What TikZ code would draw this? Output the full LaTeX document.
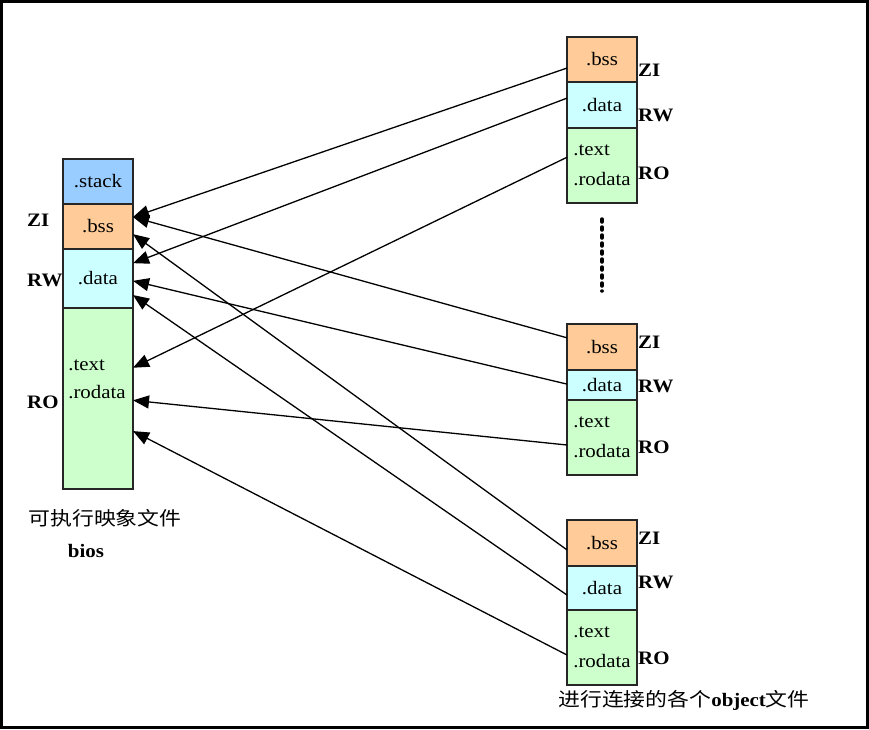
\documentclass[tikz,border=0pt]{standalone}
\usepackage{fontspec}
\setmainfont{Liberation Serif}[FakeStretch=1.1]
\newfontfamily\cjk{Noto Sans CJK SC}[FakeStretch=1.15]
\usetikzlibrary{arrows.meta, positioning, calc}

\definecolor{stackblue}{RGB}{153,204,255}
\definecolor{bssorange}{RGB}{255,204,153}
\definecolor{datacyan}{RGB}{204,255,255}
\definecolor{codegreen}{RGB}{204,255,204}

\begin{document}
\begin{tikzpicture}[
  x=1pt, y=-1pt,
  every node/.style={font=\fontsize{19}{22}\selectfont},
  sect/.style={
    rectangle,
    draw=black!85,
    line width=1.2pt,
    minimum width=70pt,
    inner sep=2pt,
    outer sep=0pt,
    align=center
  },
  stackbox/.style={sect, fill=stackblue},
  bssbox/.style={sect, fill=bssorange},
  databox/.style={sect, fill=datacyan},
  codebox/.style={sect, fill=codegreen, align=left},
  tag/.style={anchor=west, inner sep=0pt, font=\fontsize{19}{22}\selectfont\bfseries},
  note/.style={align=center},
  arrow/.style={-{Triangle[length=16pt,width=13pt]}, line width=1.3pt},
  node distance=0pt
]

\useasboundingbox (0,0) rectangle (869,729);
\draw[line width=3pt] (1.5,1.5) rectangle (867.5,727.5);

% ============================================================
% Left: executable image
% ============================================================

\node[stackbox, minimum height=45pt] (stack) at (98,181.5) {.stack};
\node[bssbox, minimum height=45pt, below=of stack] (bss) {.bss};
\node[databox, minimum height=59pt, below=of bss] (data) {.data};
\node[codebox, minimum height=181pt, below=of data] (code) {};
\node[note, align=left] (codetxt) at (97,379) {.text\\[6pt].rodata};

\node[tag] (lzi) at (27,220) {ZI};
\node[tag] (lrw) at (27,280) {RW};
\node[tag] (lro) at (27,402) {RO};

\node[note] (exename) at (105,518) {\cjk 可执行映象文件};
\node[note, font=\fontsize{19}{22}\selectfont\bfseries] (bios) at (86,551) {bios};

% ============================================================
% Right: object files
% ============================================================

\node[bssbox, minimum height=45pt] (tbss) at (602,59.5) {.bss};
\node[databox, minimum height=46pt, below=of tbss] (tdata) {.data};
\node[codebox, minimum height=75pt, below=of tdata] (tcode) {.text\\[8pt].rodata};

\node[tag] (tzi) at (638,70) {ZI};
\node[tag] (trw) at (638,115) {RW};
\node[tag] (tro) at (638,173) {RO};

\node[bssbox, minimum height=46pt] (mbss) at (602,347) {.bss};
\node[databox, minimum height=30pt, below=of mbss] (mdata) {.data};
\node[codebox, minimum height=75pt, below=of mdata] (mcode) {.text\\[8pt].rodata};

\node[tag] (mzi) at (638,342) {ZI};
\node[tag] (mrw) at (638,386) {RW};
\node[tag] (mro) at (638,447) {RO};

\node[bssbox, minimum height=46pt] (bbss) at (602,543) {.bss};
\node[databox, minimum height=44pt, below=of bbss] (bdata) {.data};
\node[codebox, minimum height=75pt, below=of bdata] (bcode) {.text\\[8pt].rodata};

\node[tag] (bzi) at (638,538) {ZI};
\node[tag] (brw) at (638,582) {RW};
\node[tag] (bro) at (638,658) {RO};

\node[note] (objname) at (684,700) {{\cjk 进行连接的各个}{\bfseries object}{\cjk 文件}};

% dots between object files
\draw[line width=3.5pt, line cap=round, dash pattern=on 3pt off 5pt]
  ([yshift=-16pt]tcode.south) -- ([yshift=33pt]mbss.north);

% ============================================================
% Arrows from object files to image
% ============================================================

\draw[arrow] ($(tbss.north west)!0.69!(tbss.south west)$) -- ($(bss.north east)!0.29!(bss.south east)$);
\draw[arrow] ($(tdata.north west)!0.35!(tdata.south west)$) -- ($(data.north east)!0.24!(data.south east)$);
\draw[arrow] ($(tcode.north west)!0.39!(tcode.south west)$) -- ($(code.north east)!0.33!(code.south east)$);

\draw[arrow] ($(mbss.north west)!0.3!(mbss.south west)$) -- ($(bss.north east)!0.29!(bss.south east)$);
\draw[arrow] ($(mdata.north west)!0.47!(mdata.south west)$) -- ($(data.north east)!0.54!(data.south east)$);
\draw[arrow] ($(mcode.north west)!0.6!(mcode.south west)$) -- ($(code.north east)!0.51!(code.south east)$);

\draw[arrow] ($(bbss.north west)!0.65!(bbss.south west)$) -- ($(bss.north east)!0.67!(bss.south east)$);
\draw[arrow] ($(bdata.north west)!0.66!(bdata.south west)$) -- ($(data.north east)!0.78!(data.south east)$);
\draw[arrow] ($(bcode.north west)!0.6!(bcode.south west)$) -- ($(code.north east)!0.68!(code.south east)$);

\end{tikzpicture}
\end{document}
